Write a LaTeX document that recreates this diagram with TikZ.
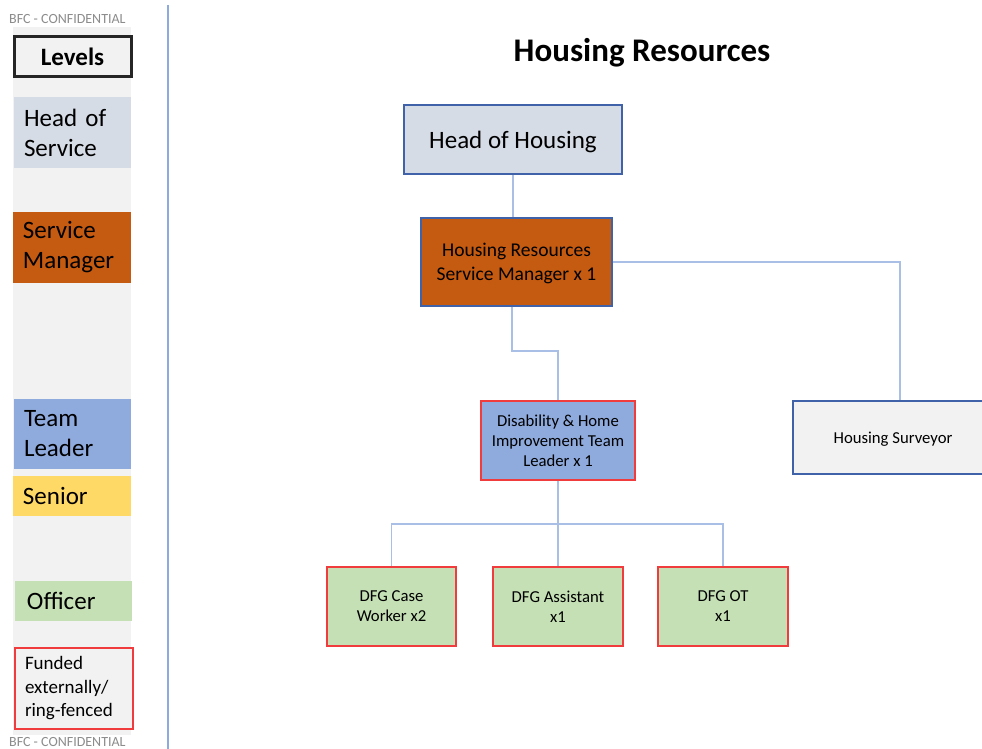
\documentclass[tikz,border=0pt]{standalone}
\usepackage{fontspec}
\setmainfont{Carlito}
\definecolor{bggray}{HTML}{F2F2F2}
\definecolor{hosc}{HTML}{D6DCE5}
\definecolor{smc}{HTML}{C55A11}
\definecolor{tlc}{HTML}{8FAADC}
\definecolor{senc}{HTML}{FFD966}
\definecolor{offc}{HTML}{C5E0B4}
\definecolor{redb}{HTML}{F03C3C}
\definecolor{blueb}{HTML}{3F62A8}
\definecolor{conn}{HTML}{A9BFE6}
\definecolor{sepc}{HTML}{8FAADC}
\definecolor{confc}{HTML}{8C8C8C}
\tikzset{
  lvl/.style={rectangle, inner xsep=10pt, inner ysep=0pt, align=left, text=black, font=\fontsize{25}{30}\selectfont},
  orgbox/.style={rectangle, draw=blueb, line width=1.3pt, align=center, inner sep=0pt, text=black, text depth=0pt},
  fundbox/.style={rectangle, draw=redb, line width=1.6pt, align=center, inner sep=0pt, text=black, text depth=0pt, font=\fontsize{16.7}{20}\selectfont},
  link/.style={draw=conn, line width=1.2pt},
  conf/.style={text=confc, font=\fontsize{14}{15}\selectfont, inner sep=0pt, anchor=west}
}
\begin{document}
\begin{tikzpicture}[x=1pt,y=-1pt]
\useasboundingbox (0,0) rectangle (982,749);
\clip (0,0) rectangle (982,749);
\fill[white] (0,0) rectangle (982,749);
% left column
\fill[bggray] (13,27) rectangle (131,735);
\node[conf] (conftop) at (9,19) {BFC - CONFIDENTIAL};
\node[conf] (confbot) at (9,742) {BFC - CONFIDENTIAL};
\node[rectangle, draw={black!85}, line width=3pt, fill=bggray, minimum width=117pt, minimum height=40pt, inner sep=0pt, font=\bfseries\fontsize{25}{28}\selectfont] (levels) at (72.5,56.5) {Levels};
\node[lvl, fill=hosc, text width=97pt, minimum height=71pt] (lhos) at (72.5,132.5) {Head of\\Service};
\node[lvl, fill=smc, text width=98pt, minimum height=71pt] (lsm) at (72,247.5) {\rule{0pt}{3pt}Service\\Manager};
\node[lvl, fill=tlc, text width=97pt, minimum height=70pt] (ltl) at (72.5,434) {Team\\Leader};
\node[lvl, fill=senc, text width=98pt, minimum height=40pt] (lsen) at (72,496) {Senior};
\node[lvl, fill=offc, minimum height=40pt, inner xsep=12pt, text width=93pt] (loff) at (73.5,601) {Officer};
\node[lvl, draw=redb, line width=1.3pt, fill=bggray, text width=98pt, minimum height=81pt, font=\fontsize{19}{23.5}\selectfont] (lfund) at (74,688.5) {Funded\\externally/\\ring-fenced};
% separator
\draw[draw=sepc, line width=1.2pt] (168,5) -- (168,749);
% title
\node[font=\bfseries\fontsize{33}{36}\selectfont, inner sep=0pt] (title) at (642,53) {Housing Resources};
% org boxes
\node[orgbox, fill=hosc, minimum width=218pt, minimum height=69pt, font=\fontsize{25}{28}\selectfont] (hoh) at (513,139.5) {Head of Housing};
\node[orgbox, fill=smc, minimum width=191pt, minimum height=88pt, font=\fontsize{19.5}{24}\selectfont] (hrsm) at (516.5,262) {Housing Resources\\Service Manager x 1};
\node[fundbox, fill=tlc, minimum width=154pt, minimum height=79pt] (dhi) at (558,440.5) {Disability \& Home\\Improvement Team\\Leader x 1};
\node[orgbox, fill=bggray, minimum width=200pt, minimum height=73pt, font=\fontsize{16.7}{20}\selectfont] (hs) at (893,437.5) {Housing Surveyor};
\node[fundbox, fill=offc, minimum width=129pt, minimum height=79pt] (dcw) at (391.5,606.5) {DFG Case\\Worker x2};
\node[fundbox, fill=offc, minimum width=130pt, minimum height=79pt] (dass) at (558,606.5) {DFG Assistant\\x1};
\node[fundbox, fill=offc, minimum width=130pt, minimum height=79pt] (dot) at (723,606.5) {DFG OT\\x1};
% connectors
\coordinate (smj) at (512,351);
\coordinate (tlj) at (558,524);
\draw[link] (hoh.south) -- (hoh.south |- hrsm.north);
\draw[link] (hrsm.south -| smj) -- (smj) -| (dhi.north);
\draw[link] (hrsm.east) -| (900,0 |- hs.north);
\draw[link] (dhi.south) -- (dass.north);
\draw[link] (tlj) -| (dcw.north);
\draw[link] (tlj) -| (dot.north);
\end{tikzpicture}
\end{document}
